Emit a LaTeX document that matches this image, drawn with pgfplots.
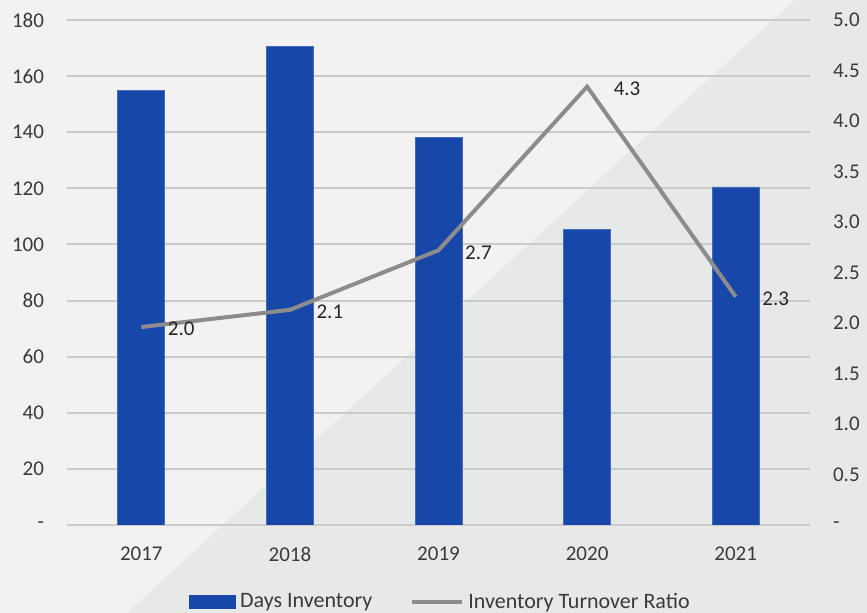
\documentclass[border=0pt]{standalone}
\usepackage{fontspec}
\setmainfont{Carlito}
\usepackage{pgfplots}
\pgfplotsset{compat=1.18}
\definecolor{barblue}{HTML}{1747A8}
\definecolor{linegray}{HTML}{8C8C8C}
\definecolor{bglight}{HTML}{F2F2F2}
\definecolor{bgdark}{HTML}{E7E8E8}
\definecolor{gridgray}{HTML}{CBCBCB}
\definecolor{txt}{HTML}{3A3A3A}

\begin{document}
\begin{tikzpicture}
\useasboundingbox (-33.5pt,-44pt) rectangle (400pt,262.5pt);
% background: light panel with a darker triangle on the right
\fill[bglight] (-33.5pt,-44pt) rectangle (400pt,262.5pt);
\fill[bgdark] (30pt,-44pt) -- (364pt,262.5pt) -- (400pt,262.5pt) -- (400pt,-44pt) -- cycle;

\pgfplotsset{common/.style={
  scale only axis, width=371.5pt, height=252.5pt,
  at={(0,0)}, anchor=south west,
  xmin=-0.5, xmax=4.5,
  axis line style={draw=none}, tick style={draw=none},
  ticklabel style={font=\fontsize{10.5}{12}\selectfont, text=txt},
  /pgf/number format/assume math mode=true}}

% Days Inventory (left axis)
\begin{axis}[common,
  ymin=0, ymax=180, ytick={0,20,...,180},
  yticklabels={-,20,40,60,80,100,120,140,160,180},
  ymajorgrids, grid style={gridgray, line width=1pt},
  xtick={0,1,2,3,4}, xticklabels={2017,2018,2019,2020,2021},
  yticklabel style={xshift=-8pt},
  xticklabel style={yshift=-7.5pt}]
\addplot[ybar, bar width=23.5pt, fill=barblue, draw=barblue!80!white, line width=0.4pt]
  coordinates {(0,155) (1,170.5) (2,138) (3,105.5) (4,120.5)};
\end{axis}

% Inventory Turnover Ratio (right axis)
\begin{axis}[common,
  axis y line*=right,
  ymin=0, ymax=5, ytick={0,0.5,...,5},
  yticklabels={-,0.5,1.0,1.5,2.0,2.5,3.0,3.5,4.0,4.5,5.0},
  yticklabel style={xshift=8pt},
  xtick=\empty,
  legend columns=2,
  legend style={at={(0.5,0)}, anchor=center, yshift=-38.5pt, xshift=1.5pt,
    draw=none, fill=none, font=\fontsize{11}{13}\selectfont, text=txt,
    /tikz/every even column/.append style={column sep=17pt}}]
\addlegendimage{legend image code/.code={\fill[barblue] (0pt,-3.25pt) rectangle (23pt,3.25pt);}}
\addlegendimage{legend image code/.code={\draw[linegray, line width=2pt] (0pt,0pt) -- (25pt,0pt);}}
\addplot[linegray, line width=2pt, forget plot,
  nodes near coords, point meta=explicit symbolic,
  every node near coord/.style={anchor=west, xshift=9pt, yshift=-1pt,
    font=\fontsize{10.5}{12}\selectfont, text=black!85}]
  coordinates {(0,1.96)[2.0] (1,2.13)[2.1] (2,2.72)[2.7] (3,4.34)[4.3] (4,2.26)[2.3]};
\legend{Days Inventory, Inventory Turnover Ratio}
\end{axis}
\end{tikzpicture}
\end{document}
